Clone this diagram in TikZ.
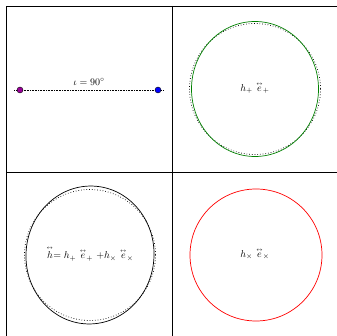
\documentclass[tikz,border=0pt]{standalone}
\usepackage{amsmath}
\newcommand{\tensr}[1]{\overset{\scriptscriptstyle\leftrightarrow}{#1}}
\begin{document}
\begin{tikzpicture}[x=1pt,y=-1pt,
  gridline/.style={line width=0.9pt,black},
  refcircle/.style={dotted,line width=0.7pt,black},
  dotnode/.style={circle,draw=black,line width=0.4pt,inner sep=0pt,minimum size=6pt},
  lbl/.style={font=\normalsize,inner sep=0pt}]
\useasboundingbox (0,0) rectangle (337,336);
% grid
\draw[gridline] (6,336) -- (6,6) -- (337,6);
\draw[gridline] (172,6) -- (172,336);
\draw[gridline] (6,172) -- (337,172);
% top-left: source line
\coordinate (lineL) at (14,90);
\coordinate (lineR) at (164,90);
\draw[densely dotted,line width=0.6pt] (lineL) -- (lineR);
\node[dotnode,fill=violet!80!magenta] (src) at (20,90) {};
\node[dotnode,fill=blue] (obs) at (158,90) {};
\node[lbl] (iota) at (89,82) {$\iota = 90^\circ$};
% top-right: plus polarization
\draw[refcircle] (255,89) circle (65.5);
\draw[green!50!black,line width=0.7pt] (255,89) ellipse [x radius=63.5,y radius=67.5];
\node[lbl] (plus) at (255,88) {$h_+\ \tensr{e}_+$};
% bottom-right: cross polarization
\draw[red,line width=0.7pt] (256,255) circle (66);
\node[lbl] (cross) at (255,254) {$h_\times\ \tensr{e}_\times$};
% bottom-left: total
\draw[refcircle] (90,255) circle (65.5);
\draw[black,line width=0.7pt,rotate around={-5:(90,255)}] (90,255) ellipse [x radius=64,y radius=69];
\node[lbl] (total) at (90,254) {$\tensr{h}$$=h_+\ \tensr{e}_+$ $+h_\times\ \tensr{e}_\times$};
\end{tikzpicture}
\end{document}
